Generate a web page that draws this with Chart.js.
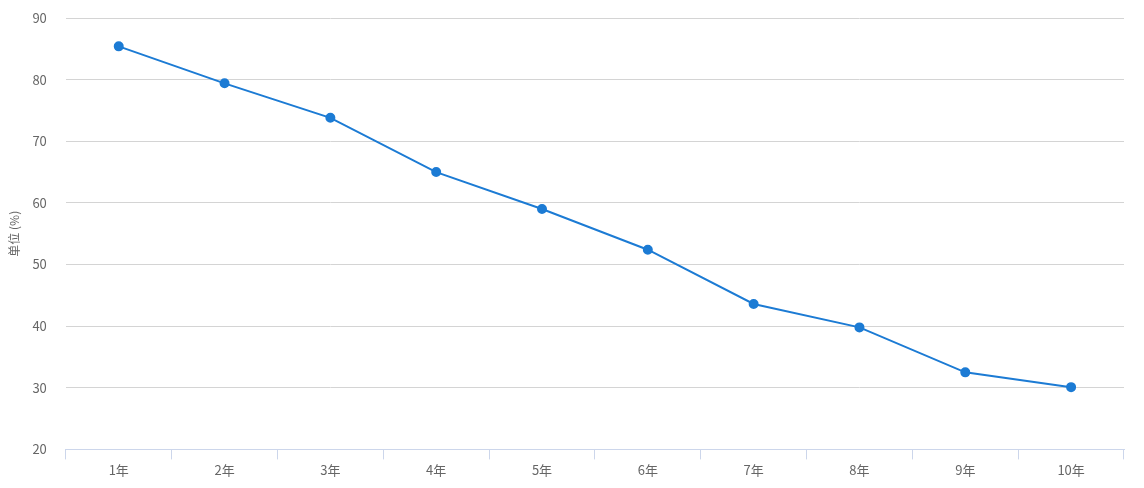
<!DOCTYPE html>
<html lang="zh">
<head>
<meta charset="UTF-8">
<title>单位 (%)</title>
<script src="https://cdn.jsdelivr.net/npm/chart.js@4/dist/chart.umd.min.js"></script>
<style>
  html, body { margin: 0; padding: 0; background: #fff; }
  #wrap { width: 1144px; height: 488px; position: relative; }
</style>
</head>
<body>
<div id="wrap"><canvas id="chart-line"></canvas></div>
<script>
  // 数据
  var categories = ['1年', '2年', '3年', '4年', '5年', '6年', '7年', '8年', '9年', '10年'];
  var values = [85.4, 79.4, 73.8, 65.0, 59.0, 52.4, 43.6, 39.8, 32.5, 30.1];
  var yTitle = '单位 (%)';

  Chart.defaults.font.family = '"Noto Sans CJK SC", "Noto Sans", sans-serif';
  Chart.defaults.font.size = 13;
  Chart.defaults.color = '#666666';

  new Chart(document.getElementById('chart-line').getContext('2d'), {
    type: 'line',
    data: {
      labels: categories,
      datasets: [{
        data: values,
        borderColor: '#1c7bd4',
        backgroundColor: '#1c7bd4',
        borderWidth: 2,
        pointRadius: 4,
        pointHoverRadius: 5,
        fill: false,
        tension: 0
      }]
    },
    options: {
      responsive: true,
      maintainAspectRatio: false,
      animation: false,
      layout: { padding: { top: 18, right: 20, bottom: 7, left: 0 } },
      plugins: {
        legend: { display: false },
        tooltip: { enabled: true }
      },
      scales: {
        x: {
          offset: true,
          grid: {
            offset: true,
            drawOnChartArea: false,
            tickLength: 10,
            color: '#ccd6eb'
          },
          border: { color: '#ccd6eb' },
          ticks: { padding: 3, color: '#666666' }
        },
        y: {
          min: 20,
          max: 90,
          // 用透明刻度线留出标签与绘图区之间的空隙
          ticks: { stepSize: 10, padding: 4, color: '#666666' },
          grid: { color: '#d4d4d4', tickColor: 'rgba(0,0,0,0)', tickLength: 15 },
          border: { display: false },
          title: { display: true, text: yTitle, color: '#666666', font: { size: 12 }, padding: { top: 7, bottom: 7 } }
        }
      }
    }
  });
</script>
</body>
</html>
